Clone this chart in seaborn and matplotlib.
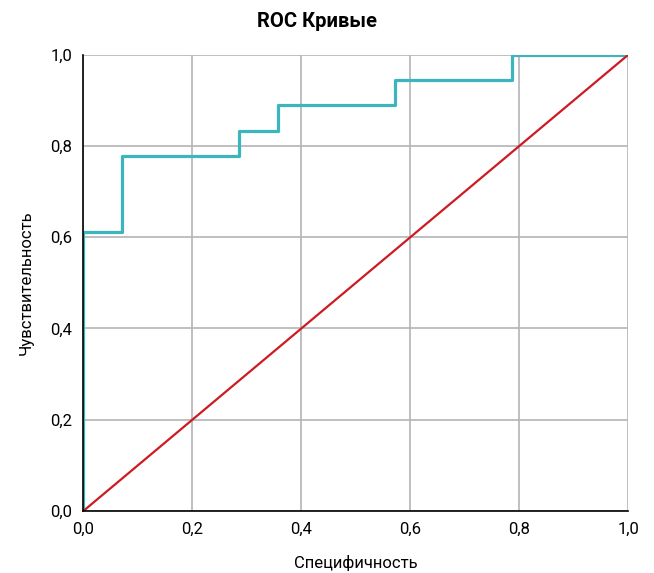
import matplotlib
matplotlib.use("Agg")
import matplotlib.pyplot as plt
import seaborn as sns
import pandas as pd
from matplotlib.ticker import FuncFormatter

# ROC curve corner points (false positive rate, true positive rate)
fpr = [0.0, 0.0, 0.0714, 0.0714, 0.2857, 0.2857, 0.3571, 0.3571, 0.5714, 0.5714, 0.7857, 0.7857, 1.0]
tpr = [0.0, 0.6111, 0.6111, 0.7778, 0.7778, 0.8333, 0.8333, 0.8889, 0.8889, 0.9444, 0.9444, 1.0, 1.0]
ref_x = [0.0, 1.0]
ref_y = [0.0, 1.0]
ticks = [0.0, 0.2, 0.4, 0.6, 0.8, 1.0]

title = "ROC Кривые"
xlabel = "Специфичность"
ylabel = "Чувствительность"

sns.set_theme(style="white")
plt.rcParams['font.family'] = ['Roboto', 'DejaVu Sans']

fig = plt.figure(figsize=(6.54, 5.73), dpi=100)
ax = fig.add_axes([0.1274, 0.1082, 0.8333, 0.7963])

roc = pd.DataFrame({"fpr": fpr, "tpr": tpr})
diag = pd.DataFrame({"x": ref_x, "y": ref_y})

sns.lineplot(data=roc, x="fpr", y="tpr", sort=False, estimator=None,
             color="#3db5bf", linewidth=2.3, ax=ax, zorder=3)
sns.lineplot(data=diag, x="x", y="y", sort=False, estimator=None,
             color="#cc1b22", linewidth=1.6, ax=ax, zorder=4)

ax.set_xlim(0, 1)
ax.set_ylim(0, 1)
ax.set_xticks(ticks)
ax.set_yticks(ticks)
fmt = FuncFormatter(lambda v, p: f"{v:.1f}".replace(".", ","))
ax.xaxis.set_major_formatter(fmt)
ax.yaxis.set_major_formatter(fmt)
ax.grid(True, color="#b4b4b8", linewidth=1.2)
ax.set_axisbelow(True)
for s in ["top", "right"]:
    ax.spines[s].set_visible(False)
for s in ["left", "bottom"]:
    ax.spines[s].set_color("black")
    ax.spines[s].set_linewidth(1.2)
    ax.spines[s].set_zorder(5)
ax.tick_params(axis="both", length=0, pad=8, labelsize=12, colors="black")

ax.set_xlabel(xlabel, fontsize=12, labelpad=13, color="black")
ax.set_ylabel(ylabel, fontsize=12, labelpad=12, color="black")
fig.text(0.485, 1 - 27 / 573, title, fontsize=14.5, fontweight="bold",
         ha="center", va="baseline", color="black")

fig.savefig("out.png", dpi=100, facecolor="white")
